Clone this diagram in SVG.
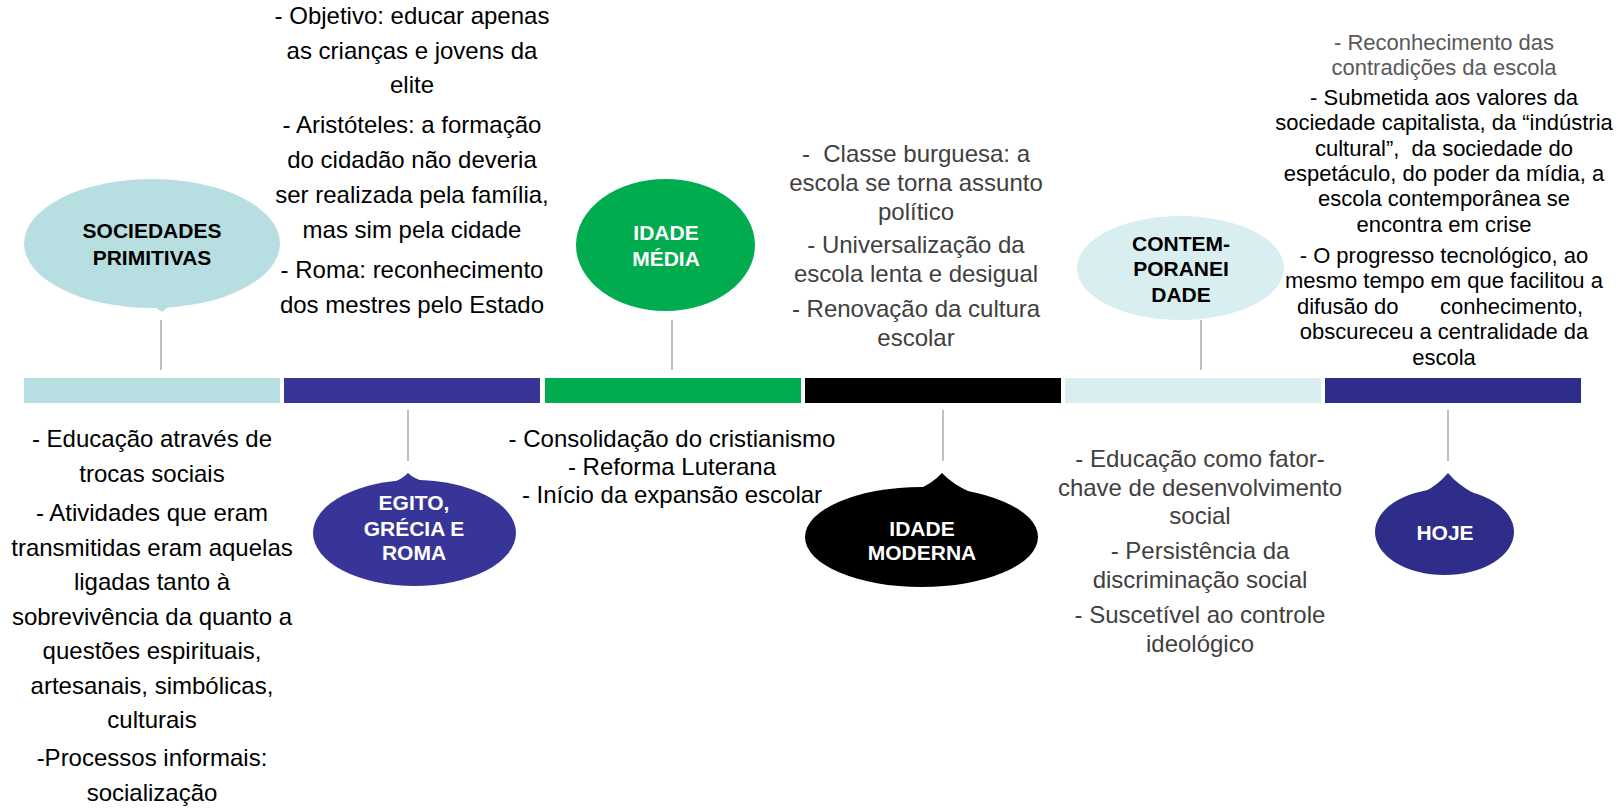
<svg xmlns="http://www.w3.org/2000/svg" width="1623" height="808" viewBox="0 0 1623 808">
<style>
text{font-family:"Liberation Sans",Arial,sans-serif;}
.lbl{font-size:21px;font-weight:bold;text-anchor:middle;}
.w{fill:#ffffff;}
.k{fill:#000000;}
.body{font-size:24px;text-anchor:middle;fill:#000000;}
.gray{fill:#404040;}
.small{font-size:22px;text-anchor:middle;fill:#000000;}
.st{text-anchor:start;}
.lg{fill:#595959;}
.conn{stroke:#bfbfbf;stroke-width:2;fill:none;}
</style>
<rect x="0" y="0" width="1623" height="808" fill="#ffffff"/>

<g id="timeline">
<rect x="24" y="378" width="256" height="25" fill="#b7dfe2"/>
<rect x="284" y="378" width="256" height="25" fill="#373698"/>
<rect x="545" y="378" width="256" height="25" fill="#00ac4e"/>
<rect x="805" y="378" width="256" height="25" fill="#000000"/>
<rect x="1065" y="378" width="256" height="25" fill="#d9eef0"/>
<rect x="1325" y="378" width="256" height="25" fill="#2e2d89"/>
</g>

<g id="connectors">
<line class="conn" x1="161" y1="320" x2="161" y2="370"/>
<line class="conn" x1="408" y1="410" x2="408" y2="461"/>
<line class="conn" x1="672" y1="320" x2="672" y2="370"/>
<line class="conn" x1="943" y1="410" x2="943" y2="461"/>
<line class="conn" x1="1201" y1="320" x2="1201" y2="370"/>
<line class="conn" x1="1448" y1="410" x2="1448" y2="461"/>
</g>

<g id="node-sociedades-primitivas">
<ellipse cx="152" cy="243.5" rx="128" ry="64.5" fill="#b7dfe2"/>
<path d="M154,306 L162,312 L170,305 Z" fill="#b7dfe2"/>
<text class="lbl k" x="152" y="238">SOCIEDADES</text>
<text class="lbl k" x="152" y="265">PRIMITIVAS</text>
</g>

<g id="node-egito">
<ellipse cx="414.5" cy="533" rx="101.5" ry="53" fill="#373698"/>
<path d="M394,482 Q402,479 408,473 Q414,479 426,482 Z" fill="#373698"/>
<text class="lbl w" x="414" y="510">EGITO,</text>
<text class="lbl w" x="414" y="536">GRÉCIA E</text>
<text class="lbl w" x="414" y="560">ROMA</text>
</g>

<g id="node-idade-media">
<ellipse cx="665.5" cy="245" rx="89.5" ry="66" fill="#00ac4e"/>
<text class="lbl w" x="666" y="240">IDADE</text>
<text class="lbl w" x="666" y="266">MÉDIA</text>
</g>

<g id="node-idade-moderna">
<ellipse cx="921.5" cy="537" rx="116.5" ry="50" fill="#000000"/>
<path d="M916,490 Q932,484 942,473 Q952,484 972,493 Z" fill="#000000"/>
<text class="lbl w" x="922" y="536">IDADE</text>
<text class="lbl w" x="922" y="560">MODERNA</text>
</g>

<g id="node-contemporaneidade">
<ellipse cx="1180.5" cy="268" rx="103.5" ry="52" fill="#d9eef0"/>
<text class="lbl k" x="1181" y="251">CONTEM-</text>
<text class="lbl k" x="1181" y="276">PORANEI</text>
<text class="lbl k" x="1181" y="302">DADE</text>
</g>

<g id="node-hoje">
<ellipse cx="1444.5" cy="532" rx="69.5" ry="43" fill="#2e2d89"/>
<path d="M1424,492 Q1438,485 1448,473 Q1458,485 1475,494 Z" fill="#2e2d89"/>
<text class="lbl w" x="1445" y="540">HOJE</text>
</g>

<g id="text-sociedades-primitivas">
<text class="body" x="152" y="447">- Educação através de</text>
<text class="body" x="152" y="482">trocas sociais</text>
<text class="body" x="152" y="521">- Atividades que eram</text>
<text class="body" x="152" y="556">transmitidas eram aquelas</text>
<text class="body" x="152" y="590">ligadas tanto à</text>
<text class="body" x="152" y="625">sobrevivência da quanto a</text>
<text class="body" x="152" y="659">questões espirituais,</text>
<text class="body" x="152" y="694">artesanais, simbólicas,</text>
<text class="body" x="152" y="728">culturais</text>
<text class="body" x="152" y="766">-Processos informais:</text>
<text class="body" x="152" y="801">socialização</text>
</g>

<g id="text-egito">
<text class="body" x="412" y="24">- Objetivo: educar apenas</text>
<text class="body" x="412" y="59">as crianças e jovens da</text>
<text class="body" x="412" y="93">elite</text>
<text class="body" x="412" y="133">- Aristóteles: a formação</text>
<text class="body" x="412" y="168">do cidadão não deveria</text>
<text class="body" x="412" y="203">ser realizada pela família,</text>
<text class="body" x="412" y="238">mas sim pela cidade</text>
<text class="body" x="412" y="278">- Roma: reconhecimento</text>
<text class="body" x="412" y="313">dos mestres pelo Estado</text>
</g>

<g id="text-idade-media">
<text class="body" x="672" y="447">- Consolidação do cristianismo</text>
<text class="body" x="672" y="475">- Reforma Luterana</text>
<text class="body" x="672" y="503">- Início da expansão escolar</text>
</g>

<g id="text-idade-moderna">
<text class="body gray" x="916" y="162">- &#160;Classe burguesa: a</text>
<text class="body gray" x="916" y="191">escola se torna assunto</text>
<text class="body gray" x="916" y="220">político</text>
<text class="body gray" x="916" y="253">- Universalização da</text>
<text class="body gray" x="916" y="282">escola lenta e desigual</text>
<text class="body gray" x="916" y="317">- Renovação da cultura</text>
<text class="body gray" x="916" y="346">escolar</text>
</g>

<g id="text-contemporaneidade">
<text class="body gray" x="1200" y="467">- Educação como fator-</text>
<text class="body gray" x="1200" y="496">chave de desenvolvimento</text>
<text class="body gray" x="1200" y="524">social</text>
<text class="body gray" x="1200" y="559">- Persistência da</text>
<text class="body gray" x="1200" y="588">discriminação social</text>
<text class="body gray" x="1200" y="623">- Suscetível ao controle</text>
<text class="body gray" x="1200" y="652">ideológico</text>
</g>

<g id="text-hoje">
<text class="small lg" x="1444" y="50">- Reconhecimento das</text>
<text class="small lg" x="1444" y="75">contradições da escola</text>
<text class="small" x="1444" y="105">- Submetida aos valores da</text>
<text class="small" x="1444" y="130">sociedade capitalista, da “indústria</text>
<text class="small" x="1444" y="156">cultural”, &#160;da sociedade do</text>
<text class="small" x="1444" y="181">espetáculo, do poder da mídia, a</text>
<text class="small" x="1444" y="206">escola contemporânea se</text>
<text class="small" x="1444" y="232">encontra em crise</text>
<text class="small" x="1444" y="263">- O progresso tecnológico, ao</text>
<text class="small" x="1444" y="288">mesmo tempo em que facilitou a</text>
<text class="small st" x="1297" y="314">difusão do</text>
<text class="small st" x="1440" y="314">conhecimento,</text>
<text class="small" x="1444" y="339">obscureceu a centralidade da</text>
<text class="small" x="1444" y="365">escola</text>
</g>
</svg>
